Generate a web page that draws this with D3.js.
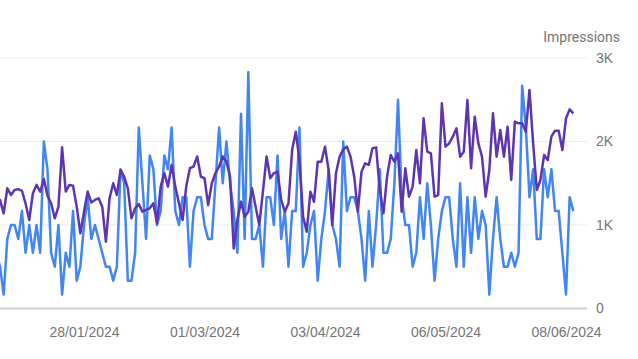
<!DOCTYPE html>
<html>
<head>
<meta charset="utf-8">
<script src="https://cdn.jsdelivr.net/npm/d3@7"></script>
<style>
  body { margin: 0; background: #fff; }
  svg { display: block; font-family: Roboto, "Noto Sans", sans-serif; }
</style>
</head>
<body>
<svg id="chart" width="638" height="359"></svg>
<script>
// daily series, first point is 04/01/2024 (one day before the visible edge)
const startDate = "04/01/2024";

// clicks (blue, left axis - cropped out of view)
const clicks = [
  4,
  3,1,5,6,6,5,7,4,6,4,6,4,12,10,4,3,6,1,4,3,7,2,3,6,8,5,6,5,4,3,3,2,3,10,9,2,2,4,13,9,
  5,11,10,6,7,11,10,13,7,6,8,8,3,7,8,8,6,5,5,9,13,9,12,9,7,4,14,5,17,5,5,6,3,8,8,6,11,5,7,3,
  7,7,13,3,4,6,7,2,5,7,10,6,5,3,12,7,8,8,7,5,2,7,3,6,10,4,4,5,9,15,8,6,6,3,4,8,5,9,6,
  2,5,7,8,8,5,3,9,3,8,4,8,5,7,6,1,5,8,5,3,3,4,3,4,16,13,8,10,5,5,10,8,10,7,7,4,1,8,7
];

// impressions (purple, right axis)
const impressions = [
  1250,
  1300,1140,1440,1360,1420,1430,1410,1260,1060,1380,1480,1400,1550,1350,1260,1080,1220,1930,1400,1480,
  1470,1220,900,1160,1400,1270,1300,1320,1220,800,1320,1500,1360,1660,1580,1440,1080,1200,1250,1160,
  1180,1200,1260,1020,1460,1620,1460,1720,1460,1260,1060,1460,1680,1700,1820,1580,1560,1240,1500,1620,
  1700,1820,1760,1580,720,1060,1280,1100,1160,1440,1220,1000,1400,1820,1560,1620,1640,1300,1160,1260,
  1900,2117,1778,1100,920,1399,1279,1758,1758,1938,1659,1000,1619,1818,1906,1938,1818,1579,1159,1639,
  1739,1719,1918,1930,1419,1140,1579,1838,1758,1858,1159,1679,1339,1459,1898,1499,2278,1878,1858,
  1339,1359,2457,1938,1978,2058,2158,1818,1878,2497,1679,2297,1978,1818,1339,1659,2337,1818,2138,1818,
  2178,1539,2238,2218,2218,2118,2617,1978,1419,1539,1838,1778,2058,2130,2130,1898,2278,2385,2337
];

const xTickLabels = ["26/12/2023", "28/01/2024", "01/03/2024", "03/04/2024", "06/05/2024", "08/06/2024"];
const impressionTicks = [0, 1000, 2000, 3000];
const clicksMax = 18;
const impressionsMax = 3000;

const parse = d3.timeParse("%d/%m/%Y");
const fmt = d3.timeFormat("%d/%m/%Y");
const day0 = parse(startDate);
const dates = clicks.map((_, i) => d3.timeDay.offset(day0, i));

const svg = d3.select("#chart");
const plotRight = 587;
const plotTop = 58, plotBottom = 308.5;

// the plot continues past the left edge of the picture
const x = d3.scaleTime()
  .domain([parse("28/01/2024"), parse("08/06/2024")])
  .range([84, 566]);

const yImp = d3.scaleLinear().domain([0, impressionsMax]).range([plotBottom, plotTop]);
const yClk = d3.scaleLinear().domain([0, clicksMax]).range([plotBottom, plotTop]);

// grid lines
svg.append("g")
  .selectAll("line")
  .data(impressionTicks.filter(d => d > 0))
  .enter()
  .append("line")
  .attr("x1", 0)
  .attr("x2", plotRight)
  .attr("y1", d => yImp(d))
  .attr("y2", d => yImp(d))
  .attr("stroke", "#ebebeb")
  .attr("stroke-width", 1);

// baseline
svg.append("line")
  .attr("x1", 0)
  .attr("x2", plotRight)
  .attr("y1", yImp(0))
  .attr("y2", yImp(0))
  .attr("stroke", "#cfcfcf")
  .attr("stroke-width", 2);

// right axis
const rightAxis = svg.append("g")
  .attr("transform", `translate(${plotRight},0)`)
  .call(d3.axisRight(yImp)
    .tickValues(impressionTicks)
    .tickSize(0)
    .tickPadding(9)
    .tickFormat(d => d === 0 ? "0" : (d / 1000) + "K"));
rightAxis.select(".domain").remove();
rightAxis.selectAll("text")
  .attr("fill", "#757575")
  .style("font-size", "14px");

svg.append("text")
  .attr("x", 620)
  .attr("y", 42)
  .attr("text-anchor", "end")
  .attr("fill", "#757575")
  .style("font-size", "14px")
  .text("Impressions");

// bottom axis labels
const bottomAxis = svg.append("g")
  .attr("transform", `translate(0,${plotBottom})`)
  .call(d3.axisBottom(x)
    .tickValues(xTickLabels.map(parse))
    .tickSize(0)
    .tickPadding(19)
    .tickFormat(fmt));
bottomAxis.select(".domain").remove();
bottomAxis.selectAll("text")
  .attr("fill", "#757575")
  .style("font-size", "14px");

// lines
const clickLine = d3.line()
  .x((d, i) => x(dates[i]))
  .y(d => yClk(d));

const impLine = d3.line()
  .x((d, i) => x(dates[i]))
  .y(d => yImp(d));

svg.append("path")
  .datum(clicks)
  .attr("fill", "none")
  .attr("stroke", "#4285f4")
  .attr("stroke-width", 2.5)
  .attr("stroke-linejoin", "round")
  .attr("d", clickLine);

svg.append("path")
  .datum(impressions)
  .attr("fill", "none")
  .attr("stroke", "#5e35b1")
  .attr("stroke-width", 2.5)
  .attr("stroke-linejoin", "round")
  .attr("d", impLine);
</script>
</body>
</html>
